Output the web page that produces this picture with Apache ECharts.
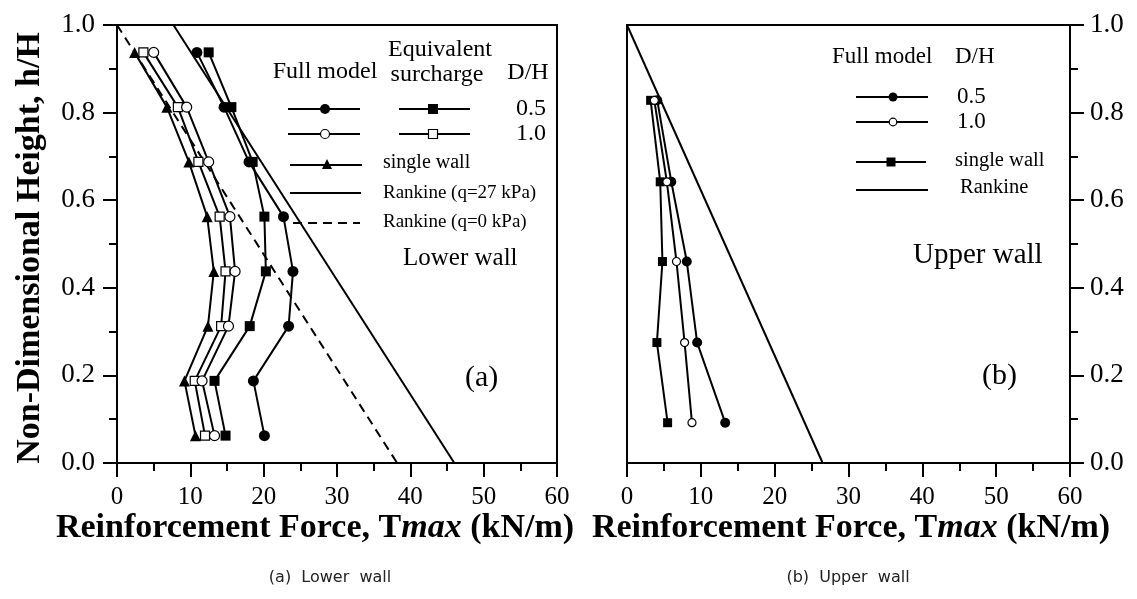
<!DOCTYPE html>
<html>
<head>
<meta charset="utf-8">
<script src="https://cdn.jsdelivr.net/npm/echarts@6/dist/echarts.min.js"></script>
<style>
html,body{margin:0;padding:0;background:#fff;}
#chart{width:1137px;height:599px;}
</style>
</head>
<body>
<div id="chart"></div>
<script>
// ---------- DATA ----------
// (a) Lower wall: reinforcement layer heights (h/H)
const lowerHeights = [0.9375, 0.8125, 0.6875, 0.5625, 0.4375, 0.3125, 0.1875, 0.0625];
const lowerFull05  = [10.9, 14.6, 18.0, 22.7, 24.0, 23.4, 18.6, 20.1];
const lowerFull10  = [5.0, 9.5, 12.5, 15.4, 16.1, 15.2, 11.6, 13.3];
const lowerEquiv05 = [12.5, 15.6, 18.5, 20.1, 20.3, 18.1, 13.3, 14.8];
const lowerEquiv10 = [3.6, 8.3, 11.1, 14.0, 14.8, 14.2, 10.6, 12.0];
const lowerSingle  = [2.4, 6.8, 9.8, 12.3, 13.2, 12.4, 9.2, 10.7];
const rankineQ27Heights = [1.0, 0.0];
const rankineQ27Values  = [7.7, 46.0];
const rankineQ0Heights  = [1.0, 0.0];
const rankineQ0Values   = [0.0, 38.2];

// (b) Upper wall
const upperHeights = [0.828, 0.642, 0.46, 0.275, 0.092];
const upperFull05  = [4.1, 6.0, 8.1, 9.5, 13.3];
const upperFull10  = [3.7, 5.4, 6.7, 7.8, 8.8];
const upperSingle  = [3.2, 4.5, 4.8, 4.05, 5.5];
const rankineUpperHeights = [1.0, 0.0];
const rankineUpperValues  = [0.0, 26.5];

// axis ticks
const xTicks = [0, 10, 20, 30, 40, 50, 60];
const yTicks = [0.0, 0.2, 0.4, 0.6, 0.8, 1.0];

// ---------- helpers ----------
const pairs = (vals, hs) => vals.map((v, i) => [v, hs[i]]);
const SERIF = 'Liberation Serif';
const BLACK = '#000';

function xAxisDef(gridIndex) {
  return {
    gridIndex, type: 'value', min: xTicks[0], max: xTicks[xTicks.length - 1], interval: 10,
    axisLine: { show: true, onZero: false, lineStyle: { color: BLACK, width: 2 } },
    axisTick: { show: true, length: 14, lineStyle: { color: BLACK, width: 2 } },
    minorTick: { show: true, splitNumber: 2, length: 8, lineStyle: { color: BLACK, width: 2 } },
    splitLine: { show: false },
    axisLabel: { color: BLACK, fontFamily: SERIF, fontSize: 25, margin: 22 }
  };
}
function yAxisDef(gridIndex, pos, margin) {
  return {
    gridIndex, type: 'value', position: pos, min: yTicks[0], max: yTicks[yTicks.length - 1], interval: 0.2,
    axisLine: { show: true, onZero: false, lineStyle: { color: BLACK, width: 2 } },
    axisTick: { show: true, length: 14, lineStyle: { color: BLACK, width: 2 } },
    minorTick: { show: true, splitNumber: 2, length: 8, lineStyle: { color: BLACK, width: 2 } },
    splitLine: { show: false },
    axisLabel: { show: true, color: BLACK, fontFamily: SERIF, fontSize: 27, margin,
      formatter: v => v.toFixed(1) }
  };
}
function dataSeries(name, xi, vals, hs, symbol, size, open) {
  return {
    name, type: 'line', xAxisIndex: xi, yAxisIndex: xi,
    data: pairs(vals, hs), symbol, symbolSize: size, showSymbol: true,
    lineStyle: { color: BLACK, width: 2 },
    itemStyle: open ? { color: '#fff', borderColor: BLACK, borderWidth: 1.2 } : { color: BLACK, borderWidth: 0 },
    z: open ? 4 : 3, animation: false
  };
}
function refLine(name, xi, vals, hs, dashed) {
  return {
    name, type: 'line', xAxisIndex: xi, yAxisIndex: xi, data: pairs(vals, hs), symbol: 'none',
    lineStyle: { color: BLACK, width: 2, type: dashed ? [9, 6] : 'solid' }, z: 2, animation: false
  };
}

// ---------- legend graphics ----------
function lgLine(x1, x2, y, dashed) {
  return { type: 'line', shape: { x1, y1: y, x2, y2: y },
    style: { stroke: BLACK, lineWidth: 2, lineDash: dashed ? [9, 6] : null } };
}
function lgCircle(cx, cy, r, open) {
  return { type: 'circle', shape: { cx, cy, r },
    style: { fill: open ? '#fff' : BLACK, stroke: BLACK, lineWidth: open ? 1.2 : 0 }, z: 10 };
}
function lgRect(cx, cy, s, open) {
  return { type: 'rect', shape: { x: cx - s / 2, y: cy - s / 2, width: s, height: s },
    style: { fill: open ? '#fff' : BLACK, stroke: BLACK, lineWidth: open ? 1.2 : 0 }, z: 10 };
}
function lgTri(cx, cy, s) {
  return { type: 'polygon', shape: { points: [[cx, cy - s / 2], [cx + s / 2, cy + s / 2], [cx - s / 2, cy + s / 2]] },
    style: { fill: BLACK }, z: 10 };
}
function txt(text, x, y, size, align, extra) {
  return Object.assign({ type: 'text', x, y, z: 10,
    style: { text, fill: BLACK, font: size + 'px "' + SERIF + '"', textAlign: align || 'left', textVerticalAlign: 'middle' } }, extra || {});
}
const richTitle = {
  b: { fontFamily: SERIF, fontWeight: 'bold', fontSize: 34, fill: BLACK, color: BLACK },
  i: { fontFamily: SERIF, fontWeight: 'bold', fontStyle: 'italic', fontSize: 34, fill: BLACK, color: BLACK }
};
function xTitle(cx) {
  return { type: 'text', x: cx, y: 528, z: 10,
    style: { text: '{b|Reinforcement Force, T}{i|max}{b| (kN/m)}', rich: richTitle,
      textAlign: 'center', textVerticalAlign: 'middle' } };
}

const graphics = [
  // left legend
  txt('Full model', 325, 72, 24, 'center'),
  txt('Equivalent', 440, 50, 24, 'center'),
  txt('surcharge', 437, 75, 24, 'center'),
  txt('D/H', 528, 73, 24, 'center'),
  lgLine(288, 360, 109), lgCircle(325, 109, 5, false),
  lgLine(399, 470, 109), lgRect(433, 109, 10, false),
  txt('0.5', 531, 109, 24, 'center'),
  lgLine(288, 360, 134), lgCircle(325, 134, 4.5, true),
  lgLine(399, 470, 134), lgRect(433, 134, 9, true),
  txt('1.0', 531, 134, 24, 'center'),
  lgLine(290, 362, 165), lgTri(327, 164, 10),
  txt('single wall', 383, 163, 20),
  lgLine(290, 361, 193),
  txt('Rankine (q=27 kPa)', 383, 193, 19),
  lgLine(293, 360, 223, true),
  txt('Rankine (q=0 kPa)', 383, 222, 19),
  txt('Lower wall', 403, 258, 25),
  txt('(a)', 465, 378, 30),
  // right legend
  txt('Full model', 832, 57, 23),
  txt('D/H', 955, 57, 23),
  lgLine(856, 928, 97), lgCircle(893, 97, 4.5, false),
  txt('0.5', 957, 97, 23),
  lgLine(856, 928, 122), lgCircle(893, 122, 3.8, true),
  txt('1.0', 957, 122, 23),
  lgLine(856, 926, 162), lgRect(891, 162, 9, false),
  txt('single wall', 955, 161, 20.5),
  lgLine(856, 928, 190),
  txt('Rankine', 960, 188, 20.5),
  txt('Upper wall', 913, 255, 29),
  txt('(b)', 982, 376, 30),
  // axis titles
  xTitle(315), xTitle(851),
  { type: 'text', x: 30, y: 248, rotation: Math.PI / 2, z: 10,
    style: { text: 'Non-Dimensional Height, h/H', fill: BLACK,
      font: 'bold 34px "' + SERIF + '"', textAlign: 'center', textVerticalAlign: 'middle' } },
  // captions
  { type: 'text', x: 330, y: 578, z: 10,
    style: { text: '(a)  Lower  wall', fill: '#222', font: '16px "DejaVu Sans"', textAlign: 'center', textVerticalAlign: 'middle' } },
  { type: 'text', x: 848, y: 578, z: 10,
    style: { text: '(b)  Upper  wall', fill: '#222', font: '16px "DejaVu Sans"', textAlign: 'center', textVerticalAlign: 'middle' } }
];

const option = {
  animation: false,
  backgroundColor: '#fff',
  grid: [
    { left: 117, top: 25, width: 440, height: 438, show: true, borderColor: BLACK, borderWidth: 2, backgroundColor: 'transparent' },
    { left: 627, top: 25, width: 443, height: 438, show: true, borderColor: BLACK, borderWidth: 2, backgroundColor: 'transparent' }
  ],
  xAxis: [xAxisDef(0), xAxisDef(1)],
  yAxis: [yAxisDef(0, 'left', 22), yAxisDef(1, 'right', 20)],
  series: [
    refLine('Rankine (q=27 kPa)', 0, rankineQ27Values, rankineQ27Heights, false),
    refLine('Rankine (q=0 kPa)', 0, rankineQ0Values, rankineQ0Heights, true),
    dataSeries('Full model 0.5', 0, lowerFull05, lowerHeights, 'circle', 11, false),
    dataSeries('Equivalent 0.5', 0, lowerEquiv05, lowerHeights, 'rect', 10, false),
    dataSeries('single wall', 0, lowerSingle, lowerHeights, 'triangle', 11, false),
    dataSeries('Equivalent 1.0', 0, lowerEquiv10, lowerHeights, 'rect', 9, true),
    dataSeries('Full model 1.0', 0, lowerFull10, lowerHeights, 'circle', 10, true),
    refLine('Rankine', 1, rankineUpperValues, rankineUpperHeights, false),
    dataSeries('Upper full 0.5', 1, upperFull05, upperHeights, 'circle', 10, false),
    dataSeries('Upper single', 1, upperSingle, upperHeights, 'rect', 9, false),
    dataSeries('Upper full 1.0', 1, upperFull10, upperHeights, 'circle', 8, true)
  ],
  graphic: graphics
};

const chart = echarts.init(document.getElementById('chart'), null, { renderer: 'canvas' });
chart.setOption(option);
</script>
</body>
</html>
